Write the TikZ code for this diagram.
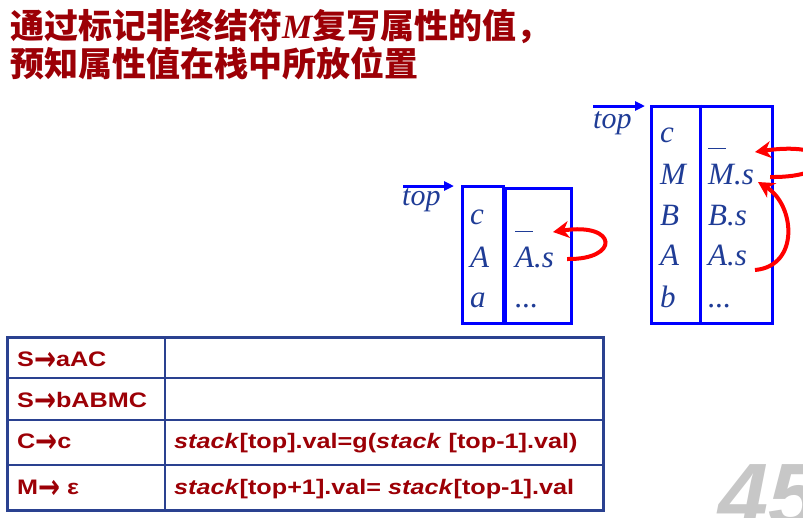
\documentclass[tikz,border=0pt]{standalone}
\usepackage{fontspec}
\setmainfont{Liberation Serif}
\setsansfont{Liberation Sans}
\newfontfamily\cjk{Noto Sans CJK SC}
\newfontfamily\tabfont[FakeStretch=1.2]{Liberation Sans}
\newfontfamily\arrfont{DejaVu Sans}
\usetikzlibrary{positioning,arrows.meta}
\definecolor{titlered}{HTML}{9C0006}
\definecolor{stackblue}{HTML}{1F3C96}
\definecolor{boxblue}{HTML}{0000FF}
\definecolor{tableblue}{HTML}{2A4190}
\newcommand{\barred}[1]{\rlap{\rule[35pt]{18pt}{1.2pt}}#1}
\newcommand{\arr}{\raisebox{-0.2em}{\scalebox{1.25}[1.6]{\arrfont\bfseries →}}}

\begin{document}
\begin{tikzpicture}[x=1pt,y=-1pt,
  box/.style={draw=boxblue,line width=3pt,inner sep=0pt},
  sym/.style={anchor=base west,inner sep=0pt,text=stackblue,font=\fontsize{31}{31}\selectfont\itshape},
  rule/.style={anchor=base west,inner sep=0pt,text=titlered,font=\tabfont\fontsize{21}{21}\selectfont\bfseries},
  backarc/.style={draw=red,line width=4pt,-{Stealth[length=16pt,width=17pt,inset=5pt]}},
  topline/.style={draw=boxblue,line width=3pt,-{Triangle[length=10pt,width=9pt]}}]
\useasboundingbox (0,0) rectangle (803,517);
\clip (0,0) rectangle (803,517);

% title
\node [anchor=base west,inner sep=0pt,text=titlered,font=\cjk\fontsize{34}{34}\selectfont\bfseries] (title1) at (10,38) {通过标记非终结符{\rmfamily\itshape M}复写属性的值，};
\node [anchor=base west,inner sep=0pt,text=titlered,font=\cjk\fontsize{34}{34}\selectfont\bfseries] (title2) at (10,76) {预知属性值在栈中所放位置};

% left stack
\node [box,minimum width=41,minimum height=137] (symL) at (482.5,254.5) {};
\node [box,minimum width=66,minimum height=135] (valL) at (538.5,255.5) {};
\node [sym] (cL) at (470,224) {c};
\node [sym] (AL) at (470,267) {A};
\node [sym] (aL) at (470,307) {a};
\node [sym] (AsL) at (515,267) {\barred{A}.s};
\node [sym] (dotsL) at (515,307) {...};
\node [sym,font=\fontsize{30}{30}\selectfont\itshape] (topL) at (402,205) {top};
\coordinate (topLa) at (403,186);
\coordinate (topLb) at (454,186);
\draw [topline] (topLa) -- (topLb);
\coordinate (loopLs) at (567,259);
\coordinate (loopLe) at (553,232);
\draw [backarc] (loopLs) .. controls (620,260) and (618,222) .. (loopLe);

% right stack
\node [box,minimum width=121,minimum height=217] (stackR) at (711.5,214.5) {};
\draw [boxblue,line width=3pt] (stackR.north) ++(-11.5,0) coordinate (divT) -- (divT |- stackR.south);
\node [sym] (cR) at (660,142) {c};
\node [sym] (MR) at (660,184) {M};
\node [sym] (BR) at (660,225) {B};
\node [sym] (AR) at (660,265) {A};
\node [sym] (bR) at (660,307) {b};
\node [sym] (MsR) at (708,184) {\barred{M}.s};
\node [sym] (BsR) at (708,225) {B.s};
\node [sym] (AsR) at (708,265) {A.s};
\node [sym] (dotsR) at (708,307) {...};
\node [sym,font=\fontsize{30}{30}\selectfont\itshape] (topR) at (593,128) {top};
\coordinate (topRa) at (593,106);
\coordinate (topRb) at (645,106);
\draw [topline] (topRa) -- (topRb);
\coordinate (loopR1s) at (770,177);
\coordinate (loopR1e) at (755,152);
\draw [backarc] (loopR1s) .. controls (840,178) and (838,140) .. (loopR1e);
\coordinate (loopR2s) at (755,270);
\coordinate (loopR2e) at (758,182);
\draw [backarc] (loopR2s) .. controls (800,266) and (795,205) .. (loopR2e);

% table
\draw [tableblue,line width=1.2pt] (7,378) -- (603,378) (7,420) -- (603,420) (7,465) -- (603,465) (165,337) -- (165,510);
\draw [tableblue,line width=3pt] (7,337) rectangle (603,510);
\node [rule] (r1) at (17,366) {S\arr aAC};
\node [rule] (r2) at (17,407) {S\arr bABMC};
\node [rule] (r3) at (17,448) {C\arr c};
\node [rule] (r4) at (17,494) {M\arr\ ε};
\node [rule] (a3) at (174,448) {\textit{stack}[top].val=g(\textit{stack} [top-1].val)};
\node [rule] (a4) at (174,494) {\textit{stack}[top+1].val= \textit{stack}[top-1].val};

% page number
\node [anchor=base west,inner sep=0pt,text=black!22,font=\fontsize{90}{90}\selectfont\sffamily\bfseries\itshape] (pageno) at (718,526) {45};
\end{tikzpicture}
\end{document}
